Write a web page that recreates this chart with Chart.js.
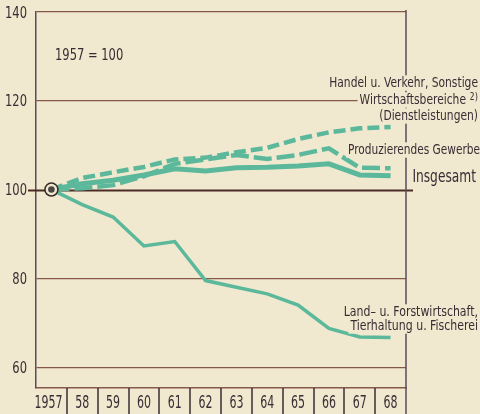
<!DOCTYPE html>
<html>
<head>
<meta charset="utf-8">
<script src="https://cdn.jsdelivr.net/npm/chart.js@4"></script>
<style>
  html, body { margin: 0; padding: 0; background: #f0e9d0; }
  #wrap { width: 480px; height: 414px; }
</style>
</head>
<body>
<div id="wrap"><canvas id="chart" width="480" height="414"></canvas></div>
<script>
// Index values, 1957 = 100
const YEARS = ["1957", "58", "59", "60", "61", "62", "63", "64", "65", "66", "67", "68"];
const TOTAL = [100, 101.3, 102.1, 103.3, 104.7, 104.2, 104.9, 105.0, 105.3, 105.8, 103.3, 103.1];
const INDUSTRY = [100, 100.3, 101.0, 103.0, 105.8, 106.8, 107.8, 106.9, 107.8, 109.3, 104.9, 104.8];
const SERVICES = [100, 102.6, 103.9, 105.1, 106.8, 107.2, 108.4, 109.4, 111.4, 112.9, 113.8, 114.1];
const AGRICULTURE = [100, 96.6, 93.8, 87.3, 88.3, 79.5, 78.0, 76.5, 74.0, 68.7, 66.8, 66.7];
const BASE_POINT = [100, null, null, null, null, null, null, null, null, null, null, null];
const Y_TICKS = [60, 80, 100, 120, 140];
const BASE_VALUE = 100;

const PAPER = "#f0e9d0";
const GREEN = "#5cb89a";
const INK = "#3b2b33";
const BROWN = "#86584a";
const FONT = "'DejaVu Sans Condensed', 'DejaVu Sans', sans-serif";

Chart.defaults.font.family = FONT;
Chart.defaults.color = INK;

// the print uses a narrow grotesque, so squeeze text horizontally
function drawText(ctx, text, x, y, size, sx, align, bg) {
  ctx.save();
  ctx.font = size + "px " + FONT;
  const w = ctx.measureText(text).width * sx;
  const left = align === "right" ? x - w : align === "center" ? x - w / 2 : x;
  if (bg) {
    ctx.fillStyle = PAPER;
    ctx.fillRect(left - 2, y - size * 0.55, w + 3, size * 1.1);
  }
  ctx.fillStyle = INK;
  ctx.translate(left, y);
  ctx.scale(sx, 1);
  ctx.textAlign = "left";
  ctx.textBaseline = "middle";
  ctx.fillText(text, 0, 0);
  ctx.restore();
  return w;
}

const paper = {
  id: "paper",
  beforeDraw(chart) {
    const { ctx, width, height } = chart;
    ctx.save();
    ctx.fillStyle = PAPER;
    ctx.fillRect(0, 0, width, height);
    ctx.restore();
  },
};

// dark reference line at 100, runs past both axes
const baseLine = {
  id: "baseLine",
  beforeDatasetsDraw(chart) {
    const { ctx, chartArea, scales } = chart;
    const y = Math.round(scales.y.getPixelForValue(BASE_VALUE)) + 0.5;
    ctx.save();
    ctx.strokeStyle = "#4a2c24";
    ctx.lineWidth = 2;
    ctx.beginPath();
    ctx.moveTo(chartArea.left - 8, y);
    ctx.lineTo(chartArea.right + 7, y);
    ctx.stroke();
    ctx.restore();
  },
};

const frame = {
  id: "frame",
  afterDraw(chart) {
    const { ctx, chartArea, scales, height } = chart;
    const x = scales.x;
    const y = scales.y;
    ctx.save();

    // right frame line
    ctx.strokeStyle = "#5a4a5c";
    ctx.lineWidth = 1.5;
    ctx.beginPath();
    ctx.moveTo(chartArea.right, chartArea.top - 2);
    ctx.lineTo(chartArea.right, height);
    ctx.stroke();

    // separators between the year labels
    ctx.strokeStyle = INK;
    ctx.lineWidth = 1.5;
    for (let i = 0; i < YEARS.length - 1; i++) {
      const bx = Math.round((x.getPixelForTick(i) + x.getPixelForTick(i + 1)) / 2);
      ctx.beginPath();
      ctx.moveTo(bx, chartArea.bottom);
      ctx.lineTo(bx, height);
      ctx.stroke();
    }
    ctx.restore();

    // axis labels
    YEARS.forEach((yr, i) => drawText(ctx, yr, x.getPixelForTick(i) - (i === 0 ? 3 : 0), 404, 17, 0.72, "center"));
    Y_TICKS.forEach((v) => drawText(ctx, String(v), 27, y.getPixelForValue(v) + 1.5, 16, 0.8, "right"));

    // annotations
    drawText(ctx, "1957 = 100", 55, 56, 16, 0.8, "left");
    drawText(ctx, "Handel u. Verkehr, Sonstige", 478, 83, 14, 0.85, "right", true);
    const supW = drawText(ctx, "2)", 478, 97, 11, 0.85, "right", true);
    drawText(ctx, "Wirtschaftsbereiche ", 478 - supW, 100, 14, 0.85, "right", true);
    drawText(ctx, "(Dienstleistungen)", 478, 116, 14, 0.85, "right", true);
    drawText(ctx, "Produzierendes Gewerbe", 480, 150, 14, 0.84, "right", true);
    drawText(ctx, "Insgesamt", 476, 178, 17, 0.8, "right", true);
    drawText(ctx, "Land\u2013 u. Forstwirtschaft,", 478, 312, 14, 0.87, "right", true);
    drawText(ctx, "Tierhaltung u. Fischerei", 478, 326, 14, 0.87, "right", true);
  },
};

function series(data, width, dash) {
  return {
    data,
    borderColor: GREEN,
    borderWidth: width,
    borderDash: dash || [],
    borderCapStyle: "butt",
    borderJoinStyle: "miter",
    pointRadius: 0,
    tension: 0,
    fill: false,
  };
}

new Chart(document.getElementById("chart"), {
  type: "line",
  data: {
    labels: YEARS,
    // earlier datasets are painted on top
    datasets: [
      {
        data: BASE_POINT,
        showLine: false,
        pointRadius: 3.3,
        pointBorderWidth: 0,
        pointBackgroundColor: "#4a4444",
      },
      {
        data: BASE_POINT,
        showLine: false,
        pointRadius: 6.5,
        pointBorderWidth: 1.6,
        pointBorderColor: "#3a2a2a",
        pointBackgroundColor: PAPER,
      },
      series(SERVICES, 4.5, [12, 5]),
      series(INDUSTRY, 4.5, [18, 5]),
      series(TOTAL, 5),
      series(AGRICULTURE, 3.5),
    ],
  },
  options: {
    responsive: false,
    animation: false,
    layout: { padding: { top: 12, right: 74, left: 0, bottom: 0 } },
    plugins: { legend: { display: false }, tooltip: { enabled: false } },
    scales: {
      x: {
        type: "category",
        offset: true,
        grid: { display: false, drawTicks: false },
        border: { display: true, color: BROWN, width: 1.5 },
        ticks: { display: false },
        afterFit(scale) { scale.height = 26; },
      },
      y: {
        min: 55.3,
        max: 140,
        afterBuildTicks(scale) { scale.ticks = Y_TICKS.map((v) => ({ value: v })); },
        grid: {
          drawTicks: false,
          color: (c) => (c.tick && c.tick.value === BASE_VALUE ? "transparent" : BROWN),
          lineWidth: 1.2,
        },
        border: { display: true, color: "#5a4a5c", width: 1.5 },
        ticks: { display: false },
        afterFit(scale) { scale.width = 36; },
      },
    },
  },
  plugins: [paper, baseLine, frame],
});
</script>
</body>
</html>
